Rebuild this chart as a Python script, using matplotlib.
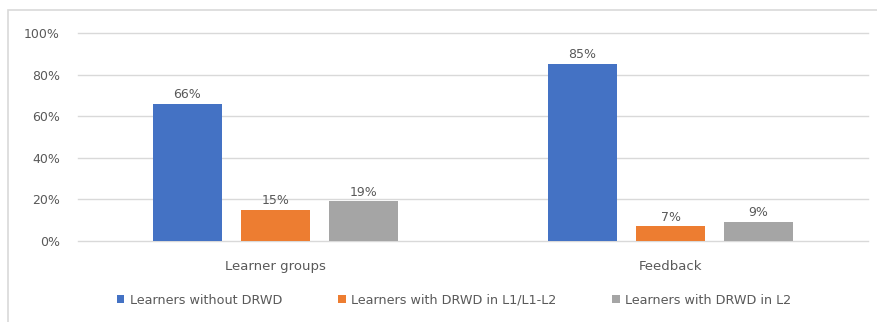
import matplotlib
matplotlib.use("Agg")
import matplotlib.pyplot as plt
from matplotlib.patches import Rectangle
import numpy as np

plt.rcParams['font.family'] = ['DejaVu Sans']

categories = ["Learner groups", "Feedback"]
series_names = ["Learners without DRWD",
                "Learners with DRWD in L1/L1-L2",
                "Learners with DRWD in L2"]
without_drwd = [66, 85]
drwd_l1_l2 = [15, 7]
drwd_l2 = [19, 9]
series = [without_drwd, drwd_l1_l2, drwd_l2]
colors = ["#4472C4", "#ED7D31", "#A5A5A5"]
yticks = [0, 20, 40, 60, 80, 100]

txt = "#595959"

fig = plt.figure(figsize=(8.77, 3.22), dpi=100)
fig.patch.set_facecolor("white")

# light frame around the chart area
fig.patches.append(Rectangle((8 / 877, -0.1), 1.2, 1 - 10 / 322 + 0.1,
                             transform=fig.transFigure, fill=False,
                             edgecolor="#d9d9d9", linewidth=1.2))

ax = fig.add_axes([78 / 877, 1 - 241 / 322, 790 / 877, 208 / 322])

x = np.arange(len(categories))
width = 0.175
step = 0.223
for i, (vals, c) in enumerate(zip(series, colors)):
    pos = x + (i - 1) * step
    bars = ax.bar(pos, vals, width, color=c, label=series_names[i], zorder=3)
    for b, v in zip(bars, vals):
        ax.text(b.get_x() + b.get_width() / 2, v + 4.5, f"{v}%",
                ha="center", va="center", fontsize=9, color=txt)

ax.set_xlim(-0.5, 1.5)
ax.set_ylim(0, 100)
ax.set_yticks(yticks)
ax.set_yticklabels([f"{t}%" for t in yticks], fontsize=9, color=txt)
ax.set_xticks(x)
ax.set_xticklabels(categories, fontsize=9.5, color=txt)
ax.tick_params(axis="both", length=0)
ax.tick_params(axis="y", pad=13)
ax.tick_params(axis="x", pad=14)
ax.grid(axis="y", color="#d9d9d9", linewidth=1, zorder=0)
for gl in ax.get_ygridlines():
    gl.set_clip_on(False)
for s in ax.spines.values():
    s.set_visible(False)

leg = fig.legend(loc="center", bbox_to_anchor=(454 / 877, 1 - 300 / 322), ncol=3,
                 frameon=False, fontsize=9.2, handlelength=0.6, handleheight=0.6,
                 handletextpad=0.4, columnspacing=4.4)
for t in leg.get_texts():
    t.set_color(txt)

fig.savefig("out.png", dpi=100)
